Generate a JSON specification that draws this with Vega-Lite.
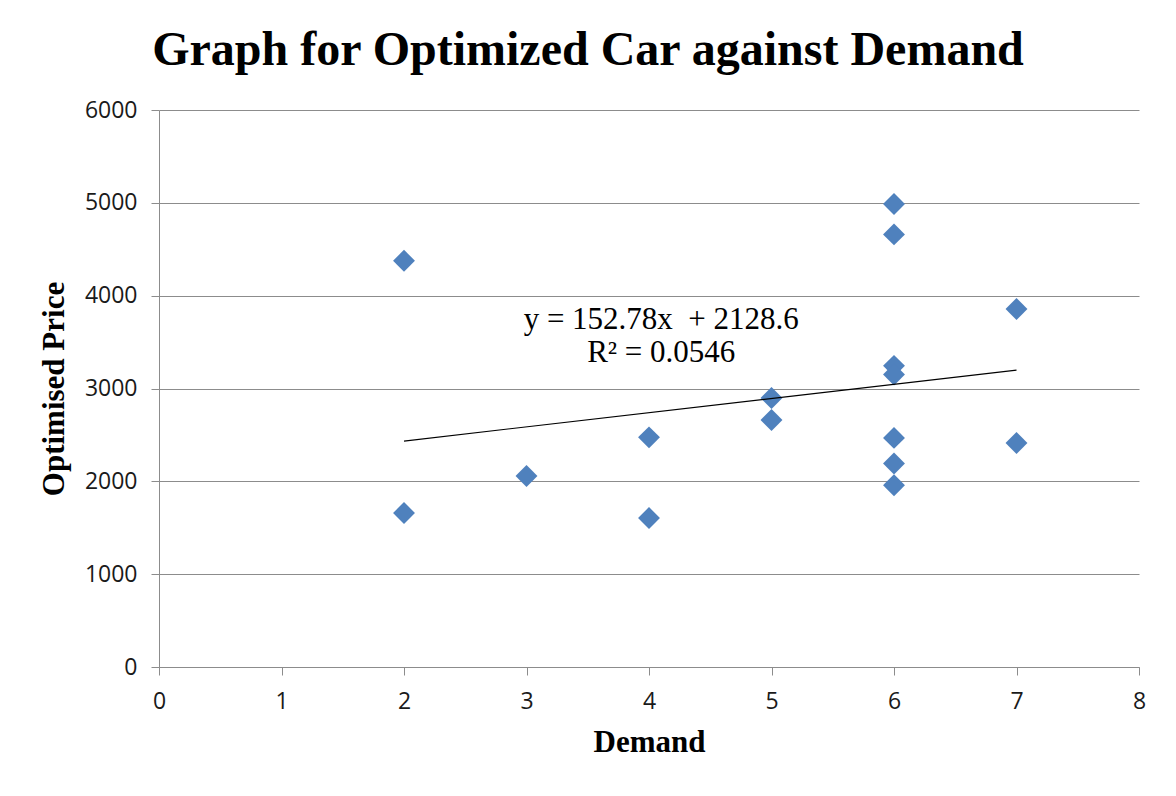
{
  "$schema": "https://vega.github.io/schema/vega-lite/v6.json",
  "width": 980,
  "height": 557,
  "autosize": "none",
  "padding": {"left": 159, "top": 110, "right": 37, "bottom": 129},
  "background": "white",
  "title": {
    "text": "Graph for Optimized Car against Demand",
    "font": "Liberation Serif",
    "fontSize": 48,
    "fontWeight": "bold",
    "color": "black",
    "anchor": "middle",
    "frame": "group",
    "dx": -61,
    "offset": 24
  },
  "config": {
    "view": {"stroke": null},
    "axis": {
      "domainColor": "#8c8c8c",
      "tickColor": "#8c8c8c",
      "gridColor": "#8c8c8c",
      "gridWidth": 1,
      "domainWidth": 1,
      "tickWidth": 1,
      "tickSize": 8,
      "labelFont": "Open Sans",
      "labelFontSize": 23,
      "labelColor": "#1a1a1a",
      "labelPadding": 14,
      "titleFont": "Liberation Serif",
      "titleFontSize": 31,
      "titleFontWeight": "bold",
      "titleColor": "black"
    }
  },
  "layer": [
    {
      "data": {
        "values": [
          {"Demand": 2, "Price": 4376},
          {"Demand": 2, "Price": 1659},
          {"Demand": 3, "Price": 2057},
          {"Demand": 4, "Price": 2474},
          {"Demand": 4, "Price": 1605},
          {"Demand": 5, "Price": 2898},
          {"Demand": 5, "Price": 2661},
          {"Demand": 6, "Price": 4987},
          {"Demand": 6, "Price": 4660},
          {"Demand": 6, "Price": 3244},
          {"Demand": 6, "Price": 3151},
          {"Demand": 6, "Price": 2468},
          {"Demand": 6, "Price": 2192},
          {"Demand": 6, "Price": 1958},
          {"Demand": 7, "Price": 3857},
          {"Demand": 7, "Price": 2413}
        ]
      },
      "mark": {"type": "point", "shape": "diamond", "filled": true, "size": 480, "color": "#4F81BD", "opacity": 1},
      "encoding": {
        "x": {
          "field": "Demand",
          "type": "quantitative",
          "scale": {"domain": [0, 8], "nice": false, "zero": true},
          "axis": {"values": [0, 1, 2, 3, 4, 5, 6, 7, 8], "format": "d", "grid": false, "title": "Demand", "titlePadding": 14, "labelPadding": 15, "labelFlush": false}
        },
        "y": {
          "field": "Price",
          "type": "quantitative",
          "scale": {"domain": [0, 6000], "nice": false},
          "axis": {"values": [0, 1000, 2000, 3000, 4000, 5000, 6000], "format": "d", "grid": true, "title": "Optimised Price", "titlePadding": 14, "labelFlush": false}
        }
      }
    },
    {
      "data": {
        "values": [
          {"Demand": 2, "Price": 2434.16},
          {"Demand": 7, "Price": 3198.06}
        ]
      },
      "mark": {"type": "line", "color": "black", "strokeWidth": 1.2},
      "encoding": {
        "x": {"field": "Demand", "type": "quantitative"},
        "y": {"field": "Price", "type": "quantitative"}
      }
    },
    {
      "data": {
        "values": [
          {"Demand": 4.1, "Price": 3640, "label": "y = 152.78x\u00a0 + 2128.6\nR² = 0.0546"}
        ]
      },
      "mark": {"type": "text", "font": "Liberation Serif", "fontSize": 31, "align": "center", "baseline": "alphabetic", "lineBreak": "\n", "lineHeight": 33, "color": "black"},
      "encoding": {
        "x": {"field": "Demand", "type": "quantitative"},
        "y": {"field": "Price", "type": "quantitative"},
        "text": {"field": "label"}
      }
    }
  ]
}
